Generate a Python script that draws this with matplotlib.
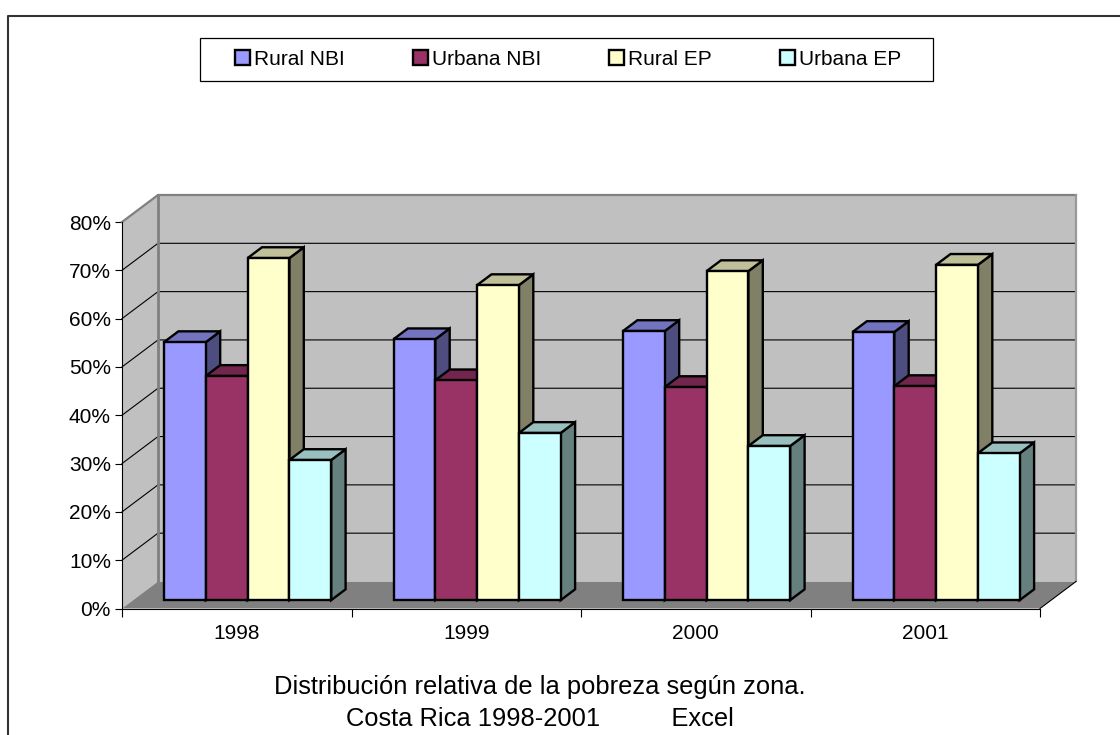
import matplotlib
matplotlib.use("Agg")
import matplotlib.pyplot as plt
from matplotlib.lines import Line2D
from matplotlib.patches import Rectangle

plt.rcParams['font.family'] = ['Liberation Sans', 'DejaVu Sans']

# Data
years = ["1998", "1999", "2000", "2001"]
rural_nbi = [53.4, 54.0, 55.7, 55.5]
urbana_nbi = [46.4, 45.5, 44.1, 44.3]
rural_ep = [70.8, 65.2, 68.1, 69.4]
urbana_ep = [29.0, 34.6, 31.9, 30.4]
y_ticks = [0, 10, 20, 30, 40, 50, 60, 70, 80]

names = ["Rural NBI", "Urbana NBI", "Rural EP", "Urbana EP"]
series = [rural_nbi, urbana_nbi, rural_ep, urbana_ep]
front_cols = ["#9999FF", "#993366", "#FFFFCC", "#CCFFFF"]
top_cols = ["#7373BF", "#73264D", "#BFBF99", "#99BFBF"]
side_cols = ["#4D4D80", "#4D1A33", "#808066", "#668080"]

W, H = 1120, 735
fig = plt.figure(figsize=(W / 100, H / 100), dpi=100)
ax = fig.add_axes([122 / W, 1 - 608.5 / H, (1040 - 122) / W, (608.5 - 222) / H])
ax.set_xlim(0, 4)
ax.set_ylim(0, 80)
ax.patch.set_visible(False)

# fake 3D depth, in data units
DX = 36 / 229.5
DY = 27 / 4.83
bar_w = 41.8 / 229.5
x_start = 42 / 229.5
base = 0.31 * DY
bdx = 0.4 * DX
bdy = 0.4 * DY
edge = 1.7

# walls and floor
ax.fill([0, DX, DX, 0], [0, DY, 80 + DY, 80], color="#C0C0C0", clip_on=False, zorder=1, lw=0)
ax.fill([DX, 4 + DX, 4 + DX, DX], [DY, DY, 80 + DY, 80 + DY], color="#C0C0C0", clip_on=False, zorder=1, lw=0)
ax.fill([0, 4, 4 + DX, DX], [0, 0, DY, DY], color="#808080", clip_on=False, zorder=2, lw=0)

# grid lines run along side wall then back wall
for t in y_ticks[1:-1]:
    ax.plot([0, DX, 4 + DX], [t, t + DY, t + DY], color="black", lw=0.8, clip_on=False, zorder=2)

# wall edges
ax.plot([0, DX, 4 + DX], [80, 80 + DY, 80 + DY], color="#808080", lw=1.6, clip_on=False, zorder=3)
ax.plot([DX, DX], [DY, 80 + DY], color="#808080", lw=2.0, clip_on=False, zorder=3)
ax.plot([4 + DX, 4 + DX], [DY, 80 + DY], color="#999999", lw=1.6, clip_on=False, zorder=3)
ax.plot([4, 4 + DX], [0, DY], color="black", lw=0.8, clip_on=False, zorder=3)

# bars, left to right so the later ones cover the sides of earlier ones
z = 4
legend_handles = []
for i in range(len(years)):
    for j in range(4):
        x0 = i + x_start + j * bar_w
        x1 = x0 + bar_w
        top = base + series[j][i]
        ax.fill([x1, x1 + bdx, x1 + bdx, x1], [base, base + bdy, top + bdy, top],
                facecolor=side_cols[j], edgecolor="black", lw=edge, clip_on=False, zorder=z,
                joinstyle="miter")
        ax.fill([x0, x1, x1 + bdx, x0 + bdx], [top, top, top + bdy, top + bdy],
                facecolor=top_cols[j], edgecolor="black", lw=edge, clip_on=False, zorder=z,
                joinstyle="miter")
        b = ax.bar(x0, series[j][i], bottom=base, width=bar_w, align="edge",
                   facecolor=front_cols[j], edgecolor="black", lw=edge, clip_on=False, zorder=z + 0.5)
        if i == 0:
            legend_handles.append(b[0])
        z += 1

# axes
for s in ["top", "right"]:
    ax.spines[s].set_visible(False)
ax.spines["left"].set_linewidth(0.8)
ax.spines["bottom"].set_linewidth(0.8)
ax.spines["left"].set_zorder(100)
ax.spines["bottom"].set_zorder(100)
ax.set_yticks(y_ticks)
ax.set_yticklabels([str(t) + "%" for t in y_ticks], fontsize=15, color="black")
ax.set_xticks([0, 1, 2, 3, 4])
ax.set_xticklabels([])
ax.set_xticks([0.5, 1.5, 2.5, 3.5], minor=True)
ax.set_xticklabels(years, minor=True, fontsize=15)
ax.tick_params(axis="y", length=5, width=0.8, pad=3)
ax.tick_params(axis="x", which="major", length=6, width=0.8)
ax.tick_params(axis="x", which="minor", length=0, pad=11)

# legend frame is separate so the swatches can sit well inside it
fig.add_artist(Rectangle((200 / W, 1 - 81 / H), 733 / W, 42.7 / H, transform=fig.transFigure,
                         facecolor="white", edgecolor="black", lw=0.9))
leg = fig.legend(legend_handles, names, ncol=4, loc="center left",
                 bbox_to_anchor=(235 / W, 1 - 59.5 / H), frameon=False, fontsize=15,
                 handlelength=0.72, handleheight=0.72, handletextpad=0.19,
                 columnspacing=3.27, borderpad=0, borderaxespad=0)

# titles under the chart
fig.text(540 / W, 1 - 694 / H, "Distribución relativa de la pobreza según zona.",
         ha="center", va="baseline", fontsize=18.4)
fig.text(540 / W, 1 - 726.5 / H, "Costa Rica 1998-2001          Excel",
         ha="center", va="baseline", fontsize=18.4)

# outer chart border, cut off by the picture at bottom and right
fig.add_artist(Line2D([8 / W, 8 / W, 1], [0, 1 - 15.7 / H, 1 - 15.7 / H],
                      color="#333333", lw=1.5))

fig.savefig("out.png", dpi=100)
